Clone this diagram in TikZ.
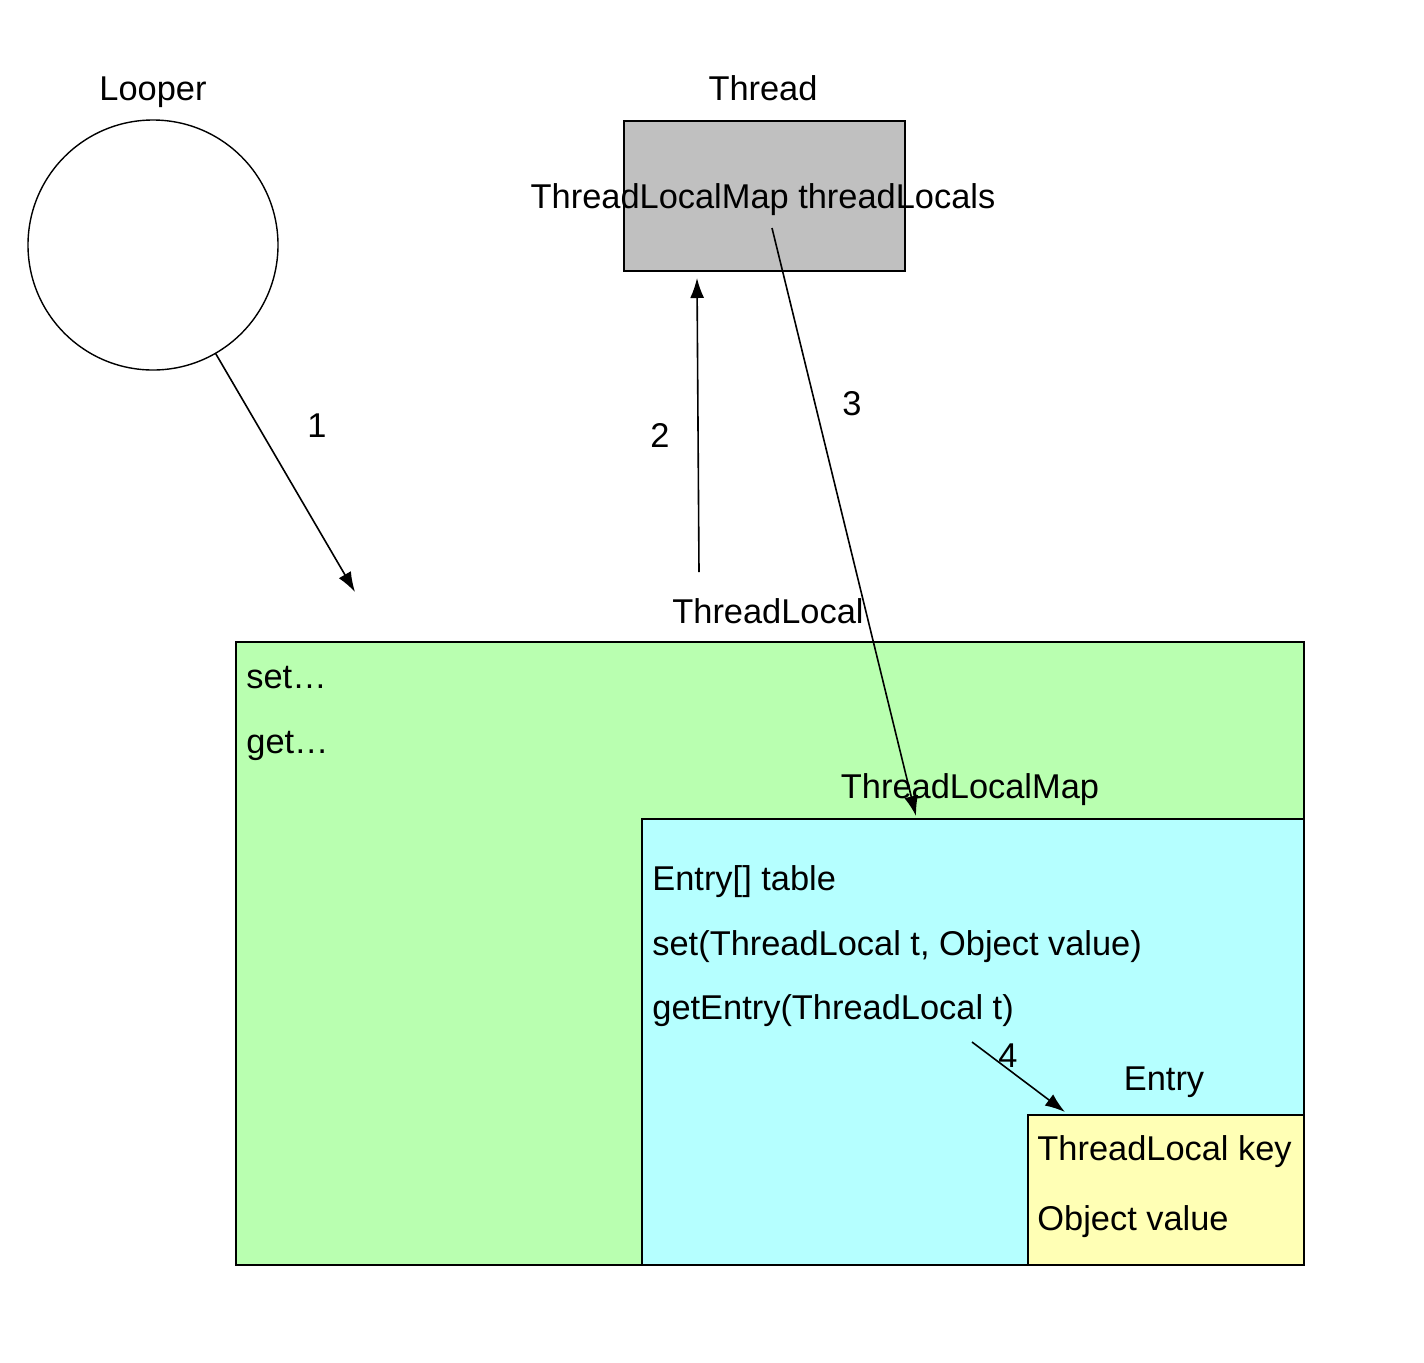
\documentclass[tikz,border=0pt]{standalone}
\usepackage{fontspec}
\setmainfont{Liberation Sans}
\usepackage{xcolor}
\usetikzlibrary{arrows.meta,positioning}
\definecolor{tlgreen}{HTML}{B9FFB0}
\definecolor{mapcyan}{HTML}{B5FFFF}
\definecolor{entryyellow}{HTML}{FFFFB5}
\definecolor{threadgray}{HTML}{C0C0C0}

\begin{document}
\begin{tikzpicture}[x=0.5pt,y=-0.5pt,>={Latex[length=10pt,width=7pt]},
  box/.style={draw,line width=0.75pt,anchor=north west,inner sep=0pt},
  txt/.style={inner sep=0pt,anchor=base west},
  lbl/.style={inner sep=0pt,anchor=base},
  every node/.append style={font=\fontsize{17.2pt}{20pt}\selectfont}]
\useasboundingbox (0,0) rectangle (1424,1362);
% looper and thread
\node[draw,line width=0.7pt,circle,minimum size=125pt,inner sep=0pt] (looper) at (153,245) {};
\node[lbl] (looperlbl) at (153,100) {Looper};
\node[box,fill=threadgray,minimum width=140.5pt,minimum height=75pt] (thread) at (623,120) {};
\node[lbl] (threadlbl) at (763,100) {Thread};
\node[lbl] (threadfield) at (763,208) {ThreadLocalMap threadLocals};
% nested boxes
\node[box,fill=tlgreen,minimum width=534pt,minimum height=311.5pt] (tl) at (235,641) {};
\node[lbl] (tllbl) at (768,623) {ThreadLocal};
\node[txt] (tlset) at (246,688) {set…};
\node[txt] (tlget) at (246,753) {get…};
\node[box,fill=mapcyan,minimum width=331pt,minimum height=223pt] (map) at (641,818) {};
\node[lbl] (maplbl) at (970,798) {ThreadLocalMap};
\node[txt] (maptable) at (652,890) {Entry[] table};
\node[txt] (mapset) at (652,955) {set(ThreadLocal t, Object value)};
\node[txt] (mapget) at (652,1019) {getEntry(ThreadLocal t)};
\node[box,fill=entryyellow,minimum width=138pt,minimum height=75pt] (entry) at (1027,1114) {};
\node[lbl] (entrylbl) at (1164,1090) {Entry};
\node[txt] (entrykey) at (1037,1160) {ThreadLocal key};
\node[txt] (entryval) at (1037,1230) {Object value};
% arrows
\coordinate (a1) at (355,592);
\coordinate (a2s) at (699,572);
\coordinate (a2e) at (697,278);
\coordinate (a3s) at (772,228);
\coordinate (a3e) at (916,816);
\coordinate (a4s) at (972,1042);
\coordinate (a4e) at (1065,1112);
\draw[->,line width=0.8pt] (looper.-60) -- (a1);
\draw[->,line width=0.8pt] (a2s) -- (a2e);
\draw[->,line width=0.8pt] (a3s) -- (a3e);
\draw[->,line width=0.8pt] (a4s) -- (a4e);
\node[lbl] (n1) at (317,437) {1};
\node[lbl] (n2) at (660,447) {2};
\node[lbl] (n3) at (852,415) {3};
\node[lbl] (n4) at (1008,1067) {4};
\end{tikzpicture}
\end{document}
